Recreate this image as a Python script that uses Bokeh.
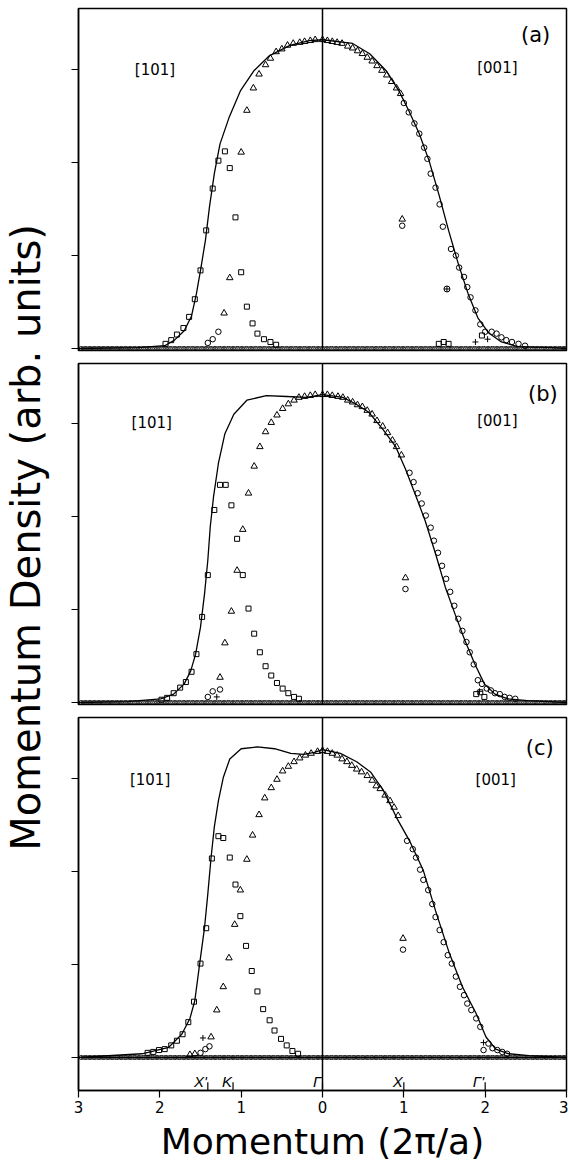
import numpy as np
from bokeh.plotting import figure
from bokeh.models import Range1d, FixedTicker, Span, Label
from bokeh.layouts import row, column
from bokeh.embed import file_html
from bokeh.resources import INLINE
from bokeh.core.properties import value

# ---------------- axis / labels ----------------
x_ticks = [-3, -2, -1, 0, 1, 2, 3]
x_tick_labels = ["3", "2", "1", "0", "1", "2", "3"]
y_ticks = [0, 1, 2, 3]
sym_x = [-1.41, -1.10, 0.0, 1.0, 2.0]
sym_labels = ["X'", "K", "Γ", "X", "Γ'"]

# points lying on the zero-density baseline (measurement grid)
base_x = np.round(np.linspace(-2.97, 2.97, 109), 3)
base_y = np.zeros_like(base_x)

# ---------------- panel (a) ----------------
a_curve_x = [-3.0, -2.27, -1.94, -1.82, -1.70, -1.61, -1.55, -1.50, -1.44, -1.39, -1.33, -1.26, -1.15,
             -1.01, -0.84, -0.65, -0.40, -0.16, 0.0, 0.37, 0.58, 0.78, 0.94, 1.06, 1.19, 1.31, 1.43,
             1.55, 1.67, 1.79, 1.91, 2.04, 2.20, 2.40, 2.82, 3.0]
a_curve_y = [0.0, 0.01, 0.03, 0.09, 0.19, 0.35, 0.59, 0.84, 1.16, 1.52, 1.88, 2.20, 2.48,
             2.77, 2.99, 3.15, 3.26, 3.31, 3.32, 3.28, 3.17, 2.99, 2.77, 2.56, 2.31, 2.02, 1.66,
             1.27, 0.91, 0.59, 0.33, 0.17, 0.07, 0.02, 0.01, 0.0]
a_sq_x = [-1.93, -1.86, -1.79, -1.71, -1.64, -1.57, -1.50, -1.43, -1.35, -1.28, -1.20, -1.14, -1.07,
          -1.00, -0.93, -0.86, -0.80, -0.72, -0.64, -0.57, 1.43, 1.49, 1.55, 1.96]
a_sq_y = [0.05, 0.09, 0.15, 0.22, 0.34, 0.53, 0.84, 1.27, 1.72, 2.02, 2.12, 1.94, 1.41,
          0.82, 0.45, 0.27, 0.16, 0.10, 0.07, 0.04, 0.05, 0.07, 0.05, 0.14]
a_tri_x = [-1.21, -1.14, -1.00, -0.93, -0.85, -0.78, -0.70, -0.64, -0.57, -0.50, -0.43, -0.36, -0.28,
           -0.22, -0.15, -0.09, 0.0, 0.06, 0.12, 0.18, 0.24, 0.31, 0.37, 0.43, 0.49, 0.55, 0.61,
           0.67, 0.73, 0.79, 0.85, 0.91, 0.96, 0.98]
a_tri_y = [0.38, 0.76, 2.11, 2.56, 2.80, 2.95, 3.05, 3.12, 3.19, 3.22, 3.26, 3.28, 3.29,
           3.30, 3.31, 3.32, 3.32, 3.31, 3.30, 3.29, 3.28, 3.25, 3.23, 3.20, 3.17, 3.13, 3.09,
           3.04, 2.99, 2.94, 2.87, 2.80, 2.74, 1.39]
a_cir_x = [-1.41, -1.35, -1.28, 0.98, 1.00, 1.06, 1.13, 1.19, 1.25, 1.29, 1.33, 1.39, 1.44, 1.48,
           1.58, 1.64, 1.68, 1.74, 1.78, 1.82, 1.88, 1.94, 2.00, 2.08, 2.14, 2.20, 2.26, 2.33,
           2.41, 2.49]
a_cir_y = [0.06, 0.10, 0.18, 1.32, 2.64, 2.54, 2.42, 2.31, 2.16, 2.04, 1.88, 1.73, 1.55, 1.31,
           1.07, 1.00, 0.87, 0.77, 0.66, 0.55, 0.41, 0.26, 0.18, 0.18, 0.16, 0.12, 0.09, 0.07,
           0.05, 0.03]
a_plus_x = [1.88, 2.03]
a_plus_y = [0.07, 0.10]
a_oplus_x = [1.53]
a_oplus_y = [0.64]

# ---------------- panel (b) ----------------
b_curve_x = [-3.0, -2.4, -1.99, -1.83, -1.70, -1.62, -1.56, -1.50, -1.45, -1.41, -1.38, -1.34, -1.28,
             -1.20, -1.09, -0.93, -0.69, -0.44, -0.20, 0.0, 0.25, 0.41, 0.57, 0.74, 0.90, 1.02, 1.14,
             1.26, 1.39, 1.51, 1.63, 1.75, 1.87, 1.99, 2.12, 2.28, 2.52, 3.0]
b_curve_y = [0.0, 0.01, 0.04, 0.09, 0.20, 0.34, 0.52, 0.81, 1.17, 1.53, 1.89, 2.21, 2.57,
             2.89, 3.10, 3.25, 3.30, 3.29, 3.28, 3.31, 3.28, 3.21, 3.12, 2.94, 2.75, 2.51, 2.24,
             1.96, 1.60, 1.24, 0.95, 0.67, 0.42, 0.20, 0.09, 0.04, 0.02, 0.0]
b_sq_x = [-1.98, -1.91, -1.83, -1.75, -1.68, -1.61, -1.55, -1.48, -1.41, -1.33, -1.26, -1.19, -1.12,
          -1.05, -0.98, -0.91, -0.84, -0.77, -0.70, -0.63, -0.56, -0.49, -0.42, -0.35, -0.29,
          1.89, 1.94, 1.99]
b_sq_y = [0.03, 0.05, 0.10, 0.16, 0.22, 0.33, 0.52, 0.92, 1.37, 2.07, 2.34, 2.34, 2.12,
          1.76, 1.37, 1.01, 0.74, 0.54, 0.39, 0.29, 0.21, 0.15, 0.10, 0.06, 0.04,
          0.09, 0.11, 0.06]
b_tri_x = [-1.26, -1.20, -1.12, -1.05, -0.98, -0.91, -0.84, -0.77, -0.70, -0.63, -0.56, -0.49, -0.42,
           -0.35, -0.29, -0.22, -0.15, -0.09, 0.0, 0.06, 0.12, 0.19, 0.25, 0.31, 0.37, 0.43, 0.49,
           0.55, 0.61, 0.67, 0.74, 0.80, 0.86, 0.91, 0.97, 1.02]
b_tri_y = [0.27, 0.64, 0.98, 1.42, 1.86, 2.25, 2.54, 2.75, 2.91, 3.01, 3.09, 3.16, 3.21,
           3.25, 3.28, 3.29, 3.30, 3.31, 3.31, 3.31, 3.30, 3.29, 3.28, 3.25, 3.23, 3.20, 3.18,
           3.14, 3.10, 3.03, 2.97, 2.90, 2.82, 2.75, 2.66, 1.34]
b_cir_x = [-1.41, -1.35, -1.26, 1.02, 1.07, 1.12, 1.17, 1.22, 1.27, 1.33, 1.37, 1.42, 1.47, 1.52,
           1.57, 1.62, 1.67, 1.72, 1.77, 1.81, 1.86, 1.91, 1.96, 2.02, 2.07, 2.12, 2.18, 2.24,
           2.30, 2.37]
b_cir_y = [0.06, 0.12, 0.14, 1.22, 2.47, 2.37, 2.25, 2.14, 2.01, 1.88, 1.74, 1.61, 1.47, 1.33,
           1.19, 1.04, 0.90, 0.77, 0.65, 0.54, 0.41, 0.24, 0.20, 0.15, 0.13, 0.10, 0.09, 0.06,
           0.05, 0.04]
b_plus_x = [-1.30, 1.93]
b_plus_y = [0.06, 0.12]
b_oplus_x = []
b_oplus_y = []

# ---------------- panel (c) ----------------
c_curve_x = [-3.0, -2.22, -1.89, -1.73, -1.63, -1.57, -1.51, -1.45, -1.41, -1.37, -1.33, -1.28, -1.22,
             -1.14, -1.00, -0.80, -0.59, -0.39, -0.23, -0.10, 0.0, 0.22, 0.42, 0.59, 0.75, 0.91,
             1.07, 1.24, 1.40, 1.56, 1.72, 1.89, 2.01, 2.13, 2.29, 2.54, 3.0]
c_curve_y = [0.0, 0.04, 0.11, 0.25, 0.42, 0.61, 1.01, 1.40, 1.76, 2.15, 2.48, 2.76, 3.01,
             3.21, 3.32, 3.34, 3.32, 3.27, 3.26, 3.28, 3.31, 3.27, 3.18, 3.07, 2.87, 2.58,
             2.33, 2.01, 1.55, 1.12, 0.76, 0.47, 0.22, 0.09, 0.04, 0.02, 0.0]
c_sq_x = [-2.15, -2.08, -2.01, -1.94, -1.86, -1.79, -1.72, -1.65, -1.58, -1.50, -1.43, -1.36, -1.28,
          -1.22, -1.14, -1.07, -1.01, -0.94, -0.87, -0.80, -0.73, -0.65, -0.59, -0.51, -0.44,
          -0.37, -0.30]
c_sq_y = [0.05, 0.06, 0.08, 0.09, 0.13, 0.18, 0.25, 0.38, 0.60, 1.01, 1.39, 2.14, 2.38,
          2.36, 2.15, 1.86, 1.52, 1.20, 0.93, 0.71, 0.52, 0.40, 0.29, 0.20, 0.13,
          0.07, 0.04]
c_tri_x = [-1.63, -1.57, -1.37, -1.30, -1.22, -1.15, -1.08, -1.01, -0.93, -0.86, -0.78, -0.71, -0.63,
           -0.56, -0.49, -0.42, -0.35, -0.28, -0.21, -0.14, -0.06, 0.0, 0.06, 0.12, 0.18, 0.24,
           0.30, 0.36, 0.42, 0.48, 0.55, 0.61, 0.66, 0.71, 0.77, 0.83, 0.88, 0.93, 0.99]
c_tri_y = [0.03, 0.04, 0.22, 0.51, 0.76, 1.07, 1.43, 1.80, 2.13, 2.39, 2.61, 2.79, 2.90,
           2.99, 3.08, 3.13, 3.18, 3.22, 3.25, 3.27, 3.29, 3.30, 3.29, 3.27, 3.25, 3.21,
           3.18, 3.14, 3.10, 3.07, 3.03, 2.98, 2.92, 2.89, 2.82, 2.76, 2.69, 2.60, 1.28]
c_cir_x = [-1.50, -1.44, -1.39, 0.99, 1.04, 1.11, 1.15, 1.20, 1.24, 1.30, 1.35, 1.39, 1.44, 1.49,
           1.54, 1.59, 1.64, 1.69, 1.74, 1.78, 1.83, 1.89, 1.94, 1.98, 2.04, 2.09, 2.15, 2.21, 2.27]
c_cir_y = [0.05, 0.09, 0.12, 1.16, 2.33, 2.24, 2.15, 2.02, 1.91, 1.80, 1.65, 1.51, 1.37, 1.24,
           1.10, 1.01, 0.87, 0.76, 0.67, 0.58, 0.51, 0.42, 0.33, 0.08, 0.15, 0.10, 0.08, 0.06, 0.04]
c_plus_x = [-1.47, 1.98]
c_plus_y = [0.21, 0.16]
c_oplus_x = []
c_oplus_y = []

FONT = "DejaVu Sans"
LABEL_W = 66
PANEL_W = 502


def make_panel(height, top, bottom, y0, y1, curve, sq, tri, cir, plus, oplus, labels, bottom_axis=False):
    p = figure(width=PANEL_W, height=height, x_range=Range1d(-3, 3), y_range=Range1d(y0, y1),
               output_backend="svg", toolbar_location=None,
               min_border_left=12, min_border_right=2, min_border_top=top, min_border_bottom=bottom)
    p.background_fill_color = "white"
    p.border_fill_color = "white"
    p.outline_line_color = "black"
    p.outline_line_width = 1.5
    p.grid.visible = False

    ya = p.yaxis[0]
    ya.ticker = FixedTicker(ticks=y_ticks)
    ya.major_label_text_font_size = "1px"
    ya.major_label_text_color = None
    ya.major_label_standoff = 0
    ya.major_tick_out = 7
    ya.major_tick_in = 0
    ya.minor_tick_out = 0
    ya.minor_tick_in = 0
    ya.axis_line_width = 1.5
    ya.major_tick_line_width = 1.2

    xa = p.xaxis[0]
    if bottom_axis:
        xa.ticker = FixedTicker(ticks=x_ticks)
        xa.major_label_overrides = {t: l for t, l in zip(x_ticks, x_tick_labels)}
        xa.major_label_text_font = FONT
        xa.major_label_text_font_size = "15px"
        xa.major_label_text_color = "black"
        xa.major_label_standoff = 3
        xa.major_tick_out = 7
        xa.major_tick_in = 0
        xa.minor_tick_out = 0
        xa.minor_tick_in = 0
        xa.axis_line_width = 1.5
        xa.major_tick_line_width = 1.2
        xa.axis_label = "Momentum (2π/a)"
        xa.axis_label_text_font = FONT
        xa.axis_label_text_font_size = "36px"
        xa.axis_label_text_font_style = "normal"
        xa.axis_label_text_color = "black"
        xa.axis_label_standoff = 5
    else:
        xa.visible = False

    p.add_layout(Span(location=0, dimension="height", line_color="black", line_width=1.5))
    if bottom_axis:
        p.add_layout(Span(location=0, dimension="width", line_color="black", line_width=1.2))

    # baseline points
    p.scatter(base_x, base_y, marker="circle", size=4, fill_color=None, line_color="black", line_width=0.8)
    p.scatter(base_x + 0.027, base_y, marker="square", size=3.5, fill_color=None, line_color="black",
              line_width=0.7)

    p.line(curve[0], curve[1], line_color="black", line_width=1.3)
    p.scatter(sq[0], sq[1], marker="square", size=5, fill_color=None, line_color="black", line_width=1)
    p.scatter(tri[0], tri[1], marker="triangle", size=6.5, fill_color=None, line_color="black", line_width=1)
    p.scatter(cir[0], cir[1], marker="circle", size=5.5, fill_color=None, line_color="black", line_width=1)
    p.scatter(plus[0], plus[1], marker="cross", size=6, line_color="black", line_width=1)
    p.scatter(oplus[0], oplus[1], marker="circle_cross", size=6, fill_color=None, line_color="black",
              line_width=1)

    for (tx, ty, txt, fs) in labels:
        p.add_layout(Label(x=tx, y=ty, text=txt, text_align="center", text_baseline="middle",
                           text_font=FONT, text_font_size=fs, text_color="black"))

    if bottom_axis:
        p.segment(x0=sym_x, y0=[y0] * len(sym_x), x1=sym_x, y1=[y0 + 0.09] * len(sym_x),
                  line_color="black", line_width=1.2)
        p.text(x=sym_x, y=[y0 + 0.09] * len(sym_x), text=sym_labels, text_align="right",
               text_baseline="alphabetic", x_offset=-1, y_offset=-1,
               text_font=value("Liberation Sans"), text_font_style="italic",
               text_font_size="15px", text_color="black")
    return p


pa = make_panel(358, 8, 8, -0.0215, 3.656, (a_curve_x, a_curve_y), (a_sq_x, a_sq_y), (a_tri_x, a_tri_y),
                (a_cir_x, a_cir_y), (a_plus_x, a_plus_y), (a_oplus_x, a_oplus_y),
                [(-2.06, 2.99, "[101]", "15px"), (2.15, 3.02, "[001]", "15px"), (2.62, 3.37, "(a)", "21px")])
pb = make_panel(354, 5, 8, -0.0215, 3.645, (b_curve_x, b_curve_y), (b_sq_x, b_sq_y), (b_tri_x, b_tri_y),
                (b_cir_x, b_cir_y), (b_plus_x, b_plus_y), (b_oplus_x, b_oplus_y),
                [(-2.10, 3.01, "[101]", "15px"), (2.15, 3.03, "[001]", "15px"), (2.71, 3.32, "(b)", "21px")])
pc = make_panel(454, 5, 76, -0.355, 3.656, (c_curve_x, c_curve_y), (c_sq_x, c_sq_y), (c_tri_x, c_tri_y),
                (c_cir_x, c_cir_y), (c_plus_x, c_plus_y), (c_oplus_x, c_oplus_y),
                [(-2.12, 2.98, "[101]", "15px"), (2.13, 2.98, "[001]", "15px"), (2.67, 3.33, "(c)", "21px")],
                bottom_axis=True)

# y-axis title strip
TOTAL_H = 358 + 354 + 454
pl = figure(width=LABEL_W, height=TOTAL_H, x_range=Range1d(0, LABEL_W), y_range=Range1d(0, TOTAL_H),
            output_backend="svg", toolbar_location=None, min_border=0,
            min_border_left=0, min_border_right=0, min_border_top=0, min_border_bottom=0)
pl.outline_line_color = None
pl.axis.visible = False
pl.grid.visible = False
pl.background_fill_color = "white"
pl.border_fill_color = "white"
pl.add_layout(Label(x=25, y=TOTAL_H - 537, text="Momentum Density (arb. units)", angle=np.pi / 2,
                    text_align="center", text_baseline="alphabetic", text_font=FONT,
                    text_font_size="40px", text_color="black"))

layout = row(pl, column(pa, pb, pc))
open("out.html", "w").write(file_html(layout, INLINE))
